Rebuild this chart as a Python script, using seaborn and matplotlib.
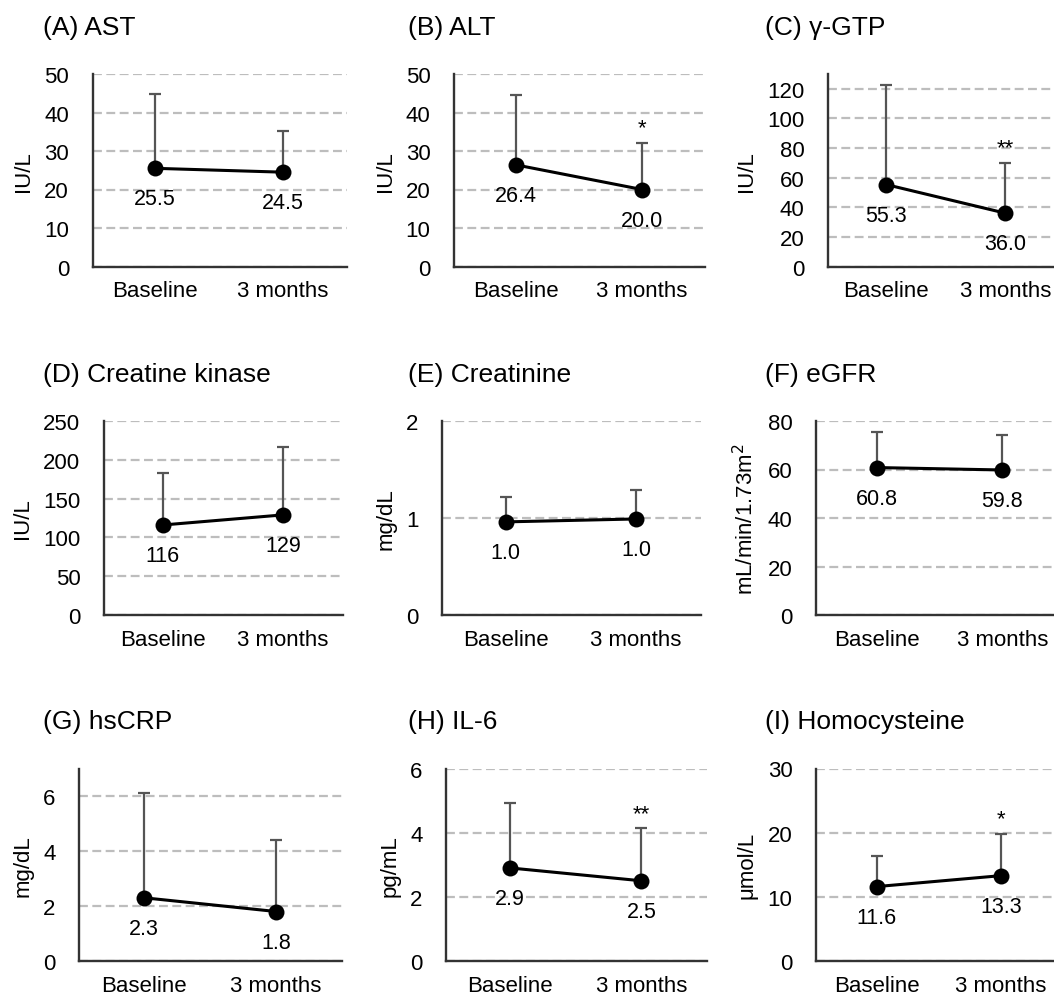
import numpy as np
import pandas as pd
import matplotlib
matplotlib.use("Agg")
import matplotlib.pyplot as plt
import seaborn as sns

# Data (mean and top of the error bar)
titles = ["(A) AST", "(B) ALT", "(C) γ-GTP",
          "(D) Creatine kinase", "(E) Creatinine", "(F) eGFR",
          "(G) hsCRP", "(H) IL-6", "(I) Homocysteine"]
units = ["IU/L", "IU/L", "IU/L",
         "IU/L", "mg/dL", "mL/min/1.73m$^2$",
         "mg/dL", "pg/mL", "μmol/L"]
timepoints = ["Baseline", "3 months"]
baseline_mean = [25.5, 26.4, 55.3, 116, 0.96, 60.8, 2.3, 2.9, 11.6]
month3_mean = [24.5, 20.0, 36.0, 129, 0.99, 59.8, 1.8, 2.5, 13.3]
baseline_upper = [44.8, 44.6, 122.5, 183, 1.22, 75.3, 6.1, 4.94, 16.4]
month3_upper = [35.2, 32.0, 70.0, 217, 1.29, 74.2, 4.4, 4.13, 19.8]
baseline_label = ["25.5", "26.4", "55.3", "116", "1.0", "60.8", "2.3", "2.9", "11.6"]
month3_label = ["24.5", "20.0", "36.0", "129", "1.0", "59.8", "1.8", "2.5", "13.3"]
month3_stars = ["", "*", "**", "", "", "", "", "**", "*"]
y_max = [50, 50, 130, 250, 2, 80, 7, 6, 30]
y_tick_max = [50, 50, 120, 250, 2, 80, 6, 6, 30]
y_step = [10, 10, 20, 50, 1, 20, 2, 2, 10]

sns.set_style("white")
plt.rcParams["font.family"] = ["Liberation Sans", "DejaVu Sans"]

W, H = 1054, 995
fig = plt.figure(figsize=(W / 100, H / 100), dpi=100)

# axes placement in pixels: (left spine x, width)
col_pos = [(92.7, 254), (454, 251), (828, 237),
           (104, 239), (442, 259), (816, 249),
           (79, 263), (446, 261), (816, 247)]
row_pos = [(75, 267.5), (422, 616), (769.5, 962)]
title_x = [43, 408, 765]

for i in range(9):
    r, c = divmod(i, 3)
    left, width = col_pos[i]
    top, bottom = row_pos[r]
    ax = fig.add_axes([left / W, 1 - bottom / H, width / W, (bottom - top) / H])

    df = pd.DataFrame({"x": [0, 1], "mean": [baseline_mean[i], month3_mean[i]],
                       "upper": [baseline_upper[i], month3_upper[i]]})

    ax.errorbar(df["x"], df["mean"], yerr=[np.zeros(2), df["upper"] - df["mean"]],
                fmt="none", ecolor="#555555", elinewidth=1.6, capsize=4.5,
                capthick=1.6, zorder=2)
    sns.lineplot(data=df, x="x", y="mean", ax=ax, color="black", lw=2.2,
                 marker="o", markersize=11.5, markeredgewidth=0, zorder=3)

    for xv, yv, lab in zip(df["x"], df["mean"], [baseline_label[i], month3_label[i]]):
        ax.annotate(lab, (xv, yv), xytext=(0, -22), textcoords="offset points",
                    ha="center", va="center", fontsize=15.5, color="black")
    if month3_stars[i]:
        ax.annotate(month3_stars[i], (1, month3_upper[i]), xytext=(0, 7),
                    textcoords="offset points", ha="center", va="baseline",
                    fontsize=16, color="black")

    ax.set_xlim(-0.49, 1.5)
    ax.set_ylim(0, y_max[i])
    ax.set_xticks([0, 1])
    ax.set_xticklabels(timepoints)
    ax.set_yticks(np.arange(0, y_tick_max[i] + y_step[i] / 2, y_step[i]))
    ax.set_xlabel("")
    ax.set_ylabel(units[i], fontsize=16, labelpad=7, color="black")
    ax.tick_params(axis="y", length=0, pad=17, labelsize=16, labelcolor="black")
    ax.tick_params(axis="x", length=0, pad=10, labelsize=16, labelcolor="black")

    ax.yaxis.grid(True, color="#bdbdbd", lw=1.6, ls=(0, (4, 2)))
    ax.set_axisbelow(True)
    for s in ["top", "right"]:
        ax.spines[s].set_visible(False)
    for s in ["left", "bottom"]:
        ax.spines[s].set_color("#333333")
        ax.spines[s].set_linewidth(1.7)
        ax.spines[s].set_zorder(4)

    fig.text(title_x[c] / W, 1 - (top - 47) / H, titles[i], fontsize=19,
             ha="left", va="center", color="black")

fig.savefig("out.png", dpi=100)
